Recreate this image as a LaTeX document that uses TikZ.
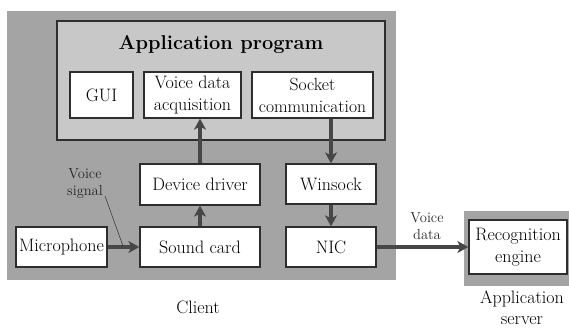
\documentclass[tikz,border=0pt]{standalone}
\usepackage{fontspec}
\usetikzlibrary{arrows.meta}
\definecolor{outergray}{HTML}{A4A4A4}
\definecolor{innergray}{HTML}{C8C8C8}
\definecolor{darkline}{HTML}{2E2E2E}
\definecolor{arrowgray}{HTML}{474747}
\begin{document}
\begin{tikzpicture}[x=1bp,y=-1bp,
  box/.style={draw=darkline, line width=1.3bp, fill=white, inner sep=0pt, align=center,
    font=\fontsize{18bp}{22bp}\selectfont},
  bigarrow/.style={draw=arrowgray, line width=3.6bp,
    -{Stealth[length=11bp,width=12bp,inset=3bp]}},
  lbl/.style={align=center, text=black!85, font=\fontsize{14.5bp}{17bp}\selectfont},
  captext/.style={align=center, font=\fontsize{18bp}{21bp}\selectfont}]
\useasboundingbox (0,0) rectangle (569,327);
% client background
\fill[outergray] (7,11) rectangle (396,280);
% application program box
\draw[darkline, line width=2.6bp, fill=innergray] (57,21) rectangle (385,140);
\node[font=\bfseries\fontsize{20bp}{22bp}\selectfont] (title) at (221,45) {Application program};
% server background
\fill[outergray] (464,211) rectangle (569,286);
% boxes
\node[box, minimum width=63bp, minimum height=46bp] (gui) at (101.5,95) {GUI};
\node[box, minimum width=97bp, minimum height=46bp] (vda) at (192.5,95) {Voice data\\acquisition};
\node[box, minimum width=121bp, minimum height=46bp, font=\fontsize{17.6bp}{22bp}\selectfont] (sock) at (312.5,95) {Socket\\communication};
\node[box, minimum width=120bp, minimum height=41bp] (dd) at (200,184.5) {Device driver};
\node[box, minimum width=120bp, minimum height=40bp] (sc) at (200,247) {Sound card};
\node[box, minimum width=91bp, minimum height=40bp] (mic) at (61.5,247) {Microphone};
\node[box, minimum width=90bp, minimum height=40bp] (win) at (331,184) {Winsock};
\node[box, minimum width=90bp, minimum height=40bp] (nic) at (331,247) {NIC};
\node[box, minimum width=98bp, minimum height=54bp] (rec) at (518,247) {Recognition\\engine};
% arrows
\draw[bigarrow] (mic.east) -- (sc.west);
\draw[bigarrow] (sc.north) -- (dd.south);
\draw[bigarrow] (dd.north) -- (dd.north |- vda.south);
\draw[bigarrow] (sock.south -| win.north) -- (win.north);
\draw[bigarrow] (win.south) -- (nic.north);
\draw[bigarrow] (nic.east) -- (rec.west);
% labels
\node[lbl] (vsig) at (85,184) {Voice\\signal};
\coordinate (leadtop) at (105,196);
\coordinate (lead) at (123,246);
\draw[darkline, line width=0.5bp] (leadtop) -- (lead);
\node[lbl] (vdat) at (427,226) {Voice\\data};
\node[captext] (client) at (198,307) {Client};
\node[captext] (server) at (522,308) {Application\\server};
\end{tikzpicture}
\end{document}
